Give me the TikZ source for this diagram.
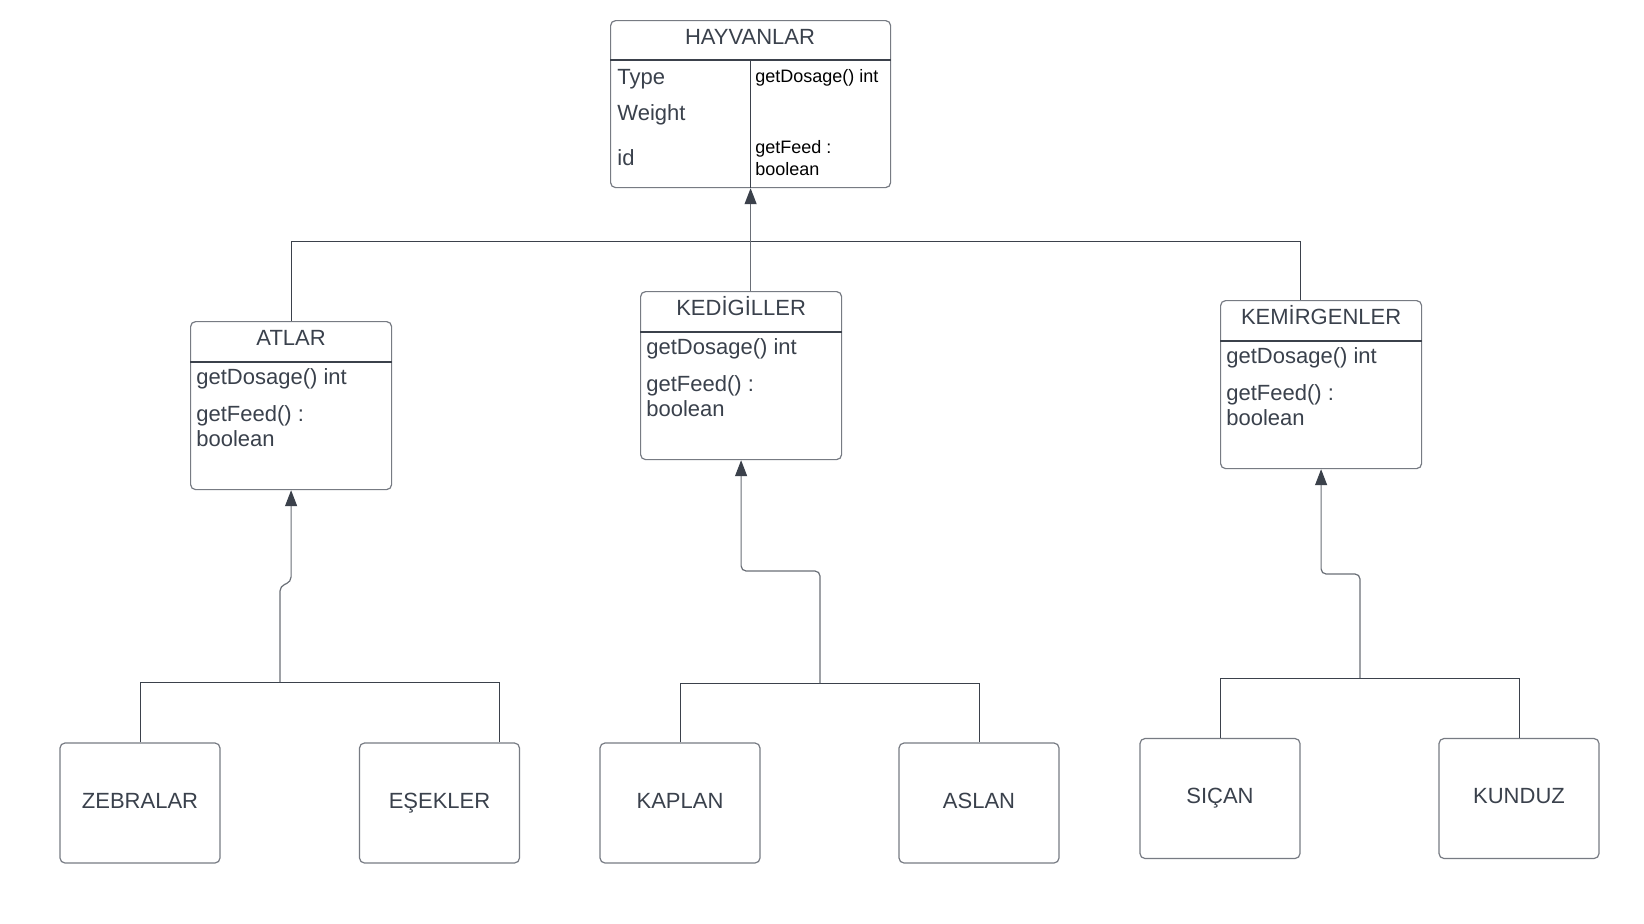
\documentclass[tikz,border=0pt]{standalone}
\usepackage{fontspec}
\setmainfont{Liberation Sans}
\usetikzlibrary{arrows.meta,calc}
\definecolor{txt}{HTML}{3A414C}
\definecolor{boxgray}{HTML}{777B83}
\definecolor{dark}{HTML}{3B414B}
\definecolor{linegray}{HTML}{6A6F77}
\newcommand\umlclass[4]{%
  \node[classbox, anchor=north west] (#1) at (#2,#3) {};
  \draw[divline] ($(#1.north west)+(0,41)$) -- ($(#1.north east)+(0,41)$);
  \node[titletext] (#1-title) at ($(#1.north)+(0,19)$) {#4};
  \node[membertext] (#1-dose) at ($(#1.north west)+(6,58)$) {getDosage() int};
  \node[membertext] (#1-feed) at ($(#1.north west)+(6,95)$) {getFeed() :};
  \node[membertext] (#1-bool) at ($(#1.north west)+(6,120)$) {boolean};
}
\begin{document}
\begin{tikzpicture}[x=0.5pt,y=-0.5pt,
  classbox/.style={draw=boxgray, line width=0.6pt, rounded corners=2.5pt,
    minimum width=100.5pt, minimum height=84pt, inner sep=0pt},
  leafbox/.style={draw=boxgray, line width=0.6pt, rounded corners=2.5pt,
    minimum width=80pt, minimum height=60pt, inner sep=0pt, text=txt,
    text height=0.75em, text depth=0.22em,
    font=\fontsize{11}{13}\selectfont},
  divline/.style={draw=dark, line width=0.6pt},
  titletext/.style={inner sep=0pt, text=txt, text height=0.75em, text depth=0.22em,
    font=\fontsize{11}{13}\selectfont},
  membertext/.style={anchor=west, inner sep=0pt, text=txt, text height=0.75em, text depth=0.22em,
    font=\fontsize{11}{13}\selectfont},
  smalltext/.style={anchor=west, inner sep=0pt, text=black, text height=0.75em, text depth=0.22em,
    font=\fontsize{9}{11}\selectfont},
  conn/.style={draw=dark, line width=0.5pt},
  arr/.style={draw=linegray, line width=0.6pt, rounded corners=2.5pt,
    -{Triangle[width=6pt,length=8pt,color=dark]}}
]
\useasboundingbox[fill=white] (0,0) rectangle (1644,923);

% HAYVANLAR
\node[classbox, minimum width=140pt, minimum height=83.5pt, anchor=north west] (hay) at (610,20) {};
\draw[divline] ($(hay.north west)+(0,40)$) -- ($(hay.north east)+(0,40)$);
\draw[divline] ($(hay.north)+(0,40)$) -- (hay.south);
\node[titletext] (hay-title) at (750,39) {HAYVANLAR};
\node[membertext] (hay-type) at (617,79) {Type};
\node[membertext] (hay-weight) at (617,115) {Weight};
\node[membertext] (hay-id) at (617,160) {id};
\node[smalltext] (hay-dose) at (755,77) {getDosage() int};
\node[smalltext] (hay-feed) at (755,148) {getFeed :};
\node[smalltext] (hay-bool) at (755,170) {boolean};

% middle classes
\umlclass{atlar}{190}{321}{ATLAR}
\umlclass{ked}{640}{291}{KEDİGİLLER}
\umlclass{kem}{1220}{300}{KEMİRGENLER}

% leaves
\node[leafbox] (zeb) at (140,803) {ZEBRALAR};
\node[leafbox] (esek) at (439.5,803) {EŞEKLER};
\node[leafbox] (kap) at (680,803) {KAPLAN};
\node[leafbox] (asl) at (979,803) {ASLAN};
\node[leafbox] (sic) at (1220,798.5) {SIÇAN};
\node[leafbox] (kun) at (1519,798.5) {KUNDUZ};

% top level connectors
\coordinate (kj) at ([xshift=-10.25pt]kem.north);
\draw[conn] (atlar.north) -- (atlar.north |- 0,241) -- (kj |- 0,241) -- (kj);
\draw[arr] (hay.south |- ked.north) -- (hay.south);

% ATLAR subtree
\coordinate (ez) at ([xshift=29.75pt]esek.north);
\draw[conn] (zeb.north) -- (zeb.north |- 0,682) -- (ez |- 0,682) -- (ez);
\coordinate (aj) at (280,682);
\draw[arr] (aj) -- (280,586) -- (atlar.south |- 0,582) -- (atlar.south);

% KEDIGILLER subtree
\draw[conn] (kap.north) -- (kap.north |- 0,683) -- (asl.north |- 0,683) -- (asl.north);
\coordinate (kjx) at (820,683);
\draw[arr] (kjx) -- (820,571) -- (ked.south |- 0,571) -- (ked.south);

% KEMIRGENLER subtree
\draw[conn] (sic.north) -- (sic.north |- 0,678) -- (kun.north |- 0,678) -- (kun.north);
\coordinate (mjx) at (1360,678);
\draw[arr] (mjx) -- (1360,574) -- (kem.south |- 0,574) -- (kem.south);
\end{tikzpicture}
\end{document}
